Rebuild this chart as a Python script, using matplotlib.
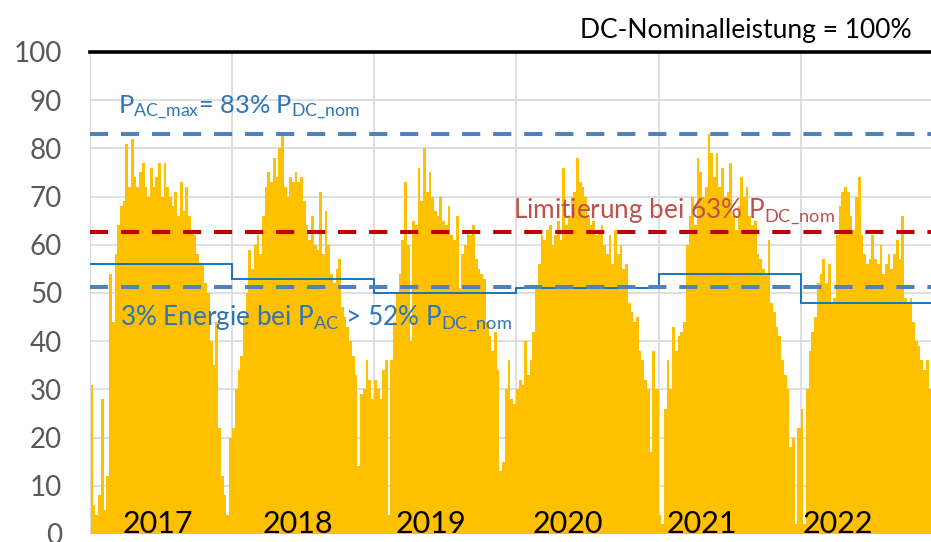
import matplotlib.pyplot as plt
import numpy as np

plt.rcParams['font.family'] = ['Lato', 'DejaVu Sans']
plt.rcParams['mathtext.fontset'] = 'custom'
plt.rcParams['mathtext.rm'] = 'Lato'
plt.rcParams['mathtext.it'] = 'Lato'

# weekly max AC power in % of DC nominal power
years = [2017, 2018, 2019, 2020, 2021, 2022]
p2017 = [31, 6, 4, 8, 28, 5, 12, 54, 44, 58, 64, 68, 69, 81, 72, 82, 74, 72, 75, 77,
         72, 70, 76, 72, 74, 77, 70, 77, 72, 70, 68, 71, 66, 73, 67, 72, 66, 63, 62, 58,
         56, 56, 52, 50, 40, 35, 44, 22, 12, 8, 4, 20]
p2018 = [22, 30, 34, 37, 45, 50, 59, 55, 60, 62, 58, 66, 72, 75, 73, 78, 74, 80, 83, 72,
         70, 74, 73, 75, 73, 74, 69, 64, 61, 66, 60, 59, 71, 58, 67, 60, 54, 52, 55, 57,
         47, 45, 43, 40, 37, 33, 14, 29, 30, 36, 32, 28]
p2019 = [32, 30, 28, 34, 36, 4, 36, 44, 50, 54, 61, 73, 60, 40, 65, 64, 76, 69, 80, 71,
         75, 70, 67, 66, 70, 65, 64, 68, 62, 61, 66, 51, 58, 60, 63, 62, 64, 57, 55, 54,
         53, 44, 41, 38, 42, 34, 13, 15, 30, 36, 28, 27]
p2020 = [30, 32, 31, 40, 33, 36, 42, 51, 56, 62, 61, 63, 64, 60, 62, 65, 61, 76, 64, 66,
         70, 71, 78, 73, 72, 70, 66, 64, 65, 62, 63, 64, 60, 58, 62, 56, 63, 58, 60, 55,
         56, 48, 46, 44, 45, 38, 36, 32, 30, 17, 38, 30]
p2021 = [4, 2, 26, 36, 30, 43, 38, 41, 42, 44, 60, 66, 70, 64, 78, 75, 70, 72, 83, 79,
         74, 79, 72, 76, 70, 71, 77, 66, 63, 68, 74, 70, 72, 66, 64, 65, 58, 57, 55, 54,
         61, 48, 46, 43, 41, 36, 33, 30, 18, 20, 2, 22]
p2022 = [26, 2, 30, 38, 42, 45, 52, 54, 57, 52, 56, 48, 49, 62, 68, 71, 72, 71, 66, 63,
         70, 74, 62, 58, 56, 57, 62, 57, 56, 60, 54, 56, 58, 55, 58, 61, 57, 66, 49, 48,
         49, 44, 40, 39, 36, 34, 36, 30, 33, 20, 31, 18]
weekly = [p2017, p2018, p2019, p2020, p2021, p2022]
energy_limit = [56, 53, 50, 51, 54, 48]   # 3%-energy threshold per year
p_ac_max = 83
p_limit = 62.6
p_52 = 51.2

days = [366 if y % 4 == 0 else 365 for y in years]
starts = np.concatenate([[0], np.cumsum(days)])

fig = plt.figure(figsize=(9.31, 5.42), dpi=100)
ax = fig.add_axes([0.0967, 0.0148, 0.9158, 0.8893])

for i, vals in enumerate(weekly):
    edges = starts[i] + 7 * np.arange(len(vals) + 1)
    edges[-1] = starts[i + 1]
    ax.stairs(vals, edges, fill=True, color='#FFC000', linewidth=0, zorder=2)

ax.stairs(energy_limit, starts, color='#0070C0', linewidth=1.3, baseline=None, zorder=3)

dash = (0, (4.5, 3.2))
ax.axhline(p_ac_max, color='#4F81BD', lw=2.9, linestyle=dash, zorder=4)
ax.axhline(p_limit, color='#C00000', lw=2.9, linestyle=dash, zorder=4)
ax.axhline(p_52, color='#4F81BD', lw=2.9, linestyle=dash, zorder=4)

ax.set_xlim(0, starts[-1])
ax.set_ylim(0, 100)
ax.set_yticks(range(0, 101, 10))
ax.set_xticks(starts[:-1])
ax.set_xticklabels([])
ax.tick_params(length=0, labelsize=20, labelcolor='#595959', pad=20)
ax.grid(True, color='#D9D9D9', linewidth=1.2, zorder=0)
ax.set_axisbelow(True)
for s in ['right', 'bottom']:
    ax.spines[s].set_visible(False)
ax.spines['left'].set_color('#D9D9D9')
ax.spines['top'].set_color('black')
ax.spines['top'].set_linewidth(2.6)

blue = '#2E75B6'
ax.text(72, 87.3, r'P$_{\mathrm{AC\_max}}$= 83% P$_{\mathrm{DC\_nom}}$',
        color=blue, fontsize=18.3, va='baseline', zorder=5)
ax.text(1087, 65.6, r'Limitierung bei 63% P$_{\mathrm{DC\_nom}}$',
        color='#C0504D', fontsize=18.8, va='baseline', zorder=5)
ax.text(77, 43.4, r'3% Energie bei P$_{\mathrm{AC}}$ > 52% P$_{\mathrm{DC\_nom}}$',
        color=blue, fontsize=18.8, va='baseline', zorder=5)

label_x = [175, 535, 877, 1229, 1573, 1921]
for x, y in zip(label_x, years):
    ax.text(x, 0.2, str(y), ha='center', va='baseline', fontsize=22, color='black', zorder=5)

fig.text(0.9796, 0.93, 'DC-Nominalleistung = 100%', ha='right', va='baseline', fontsize=19)

fig.savefig('out.png', dpi=100)
